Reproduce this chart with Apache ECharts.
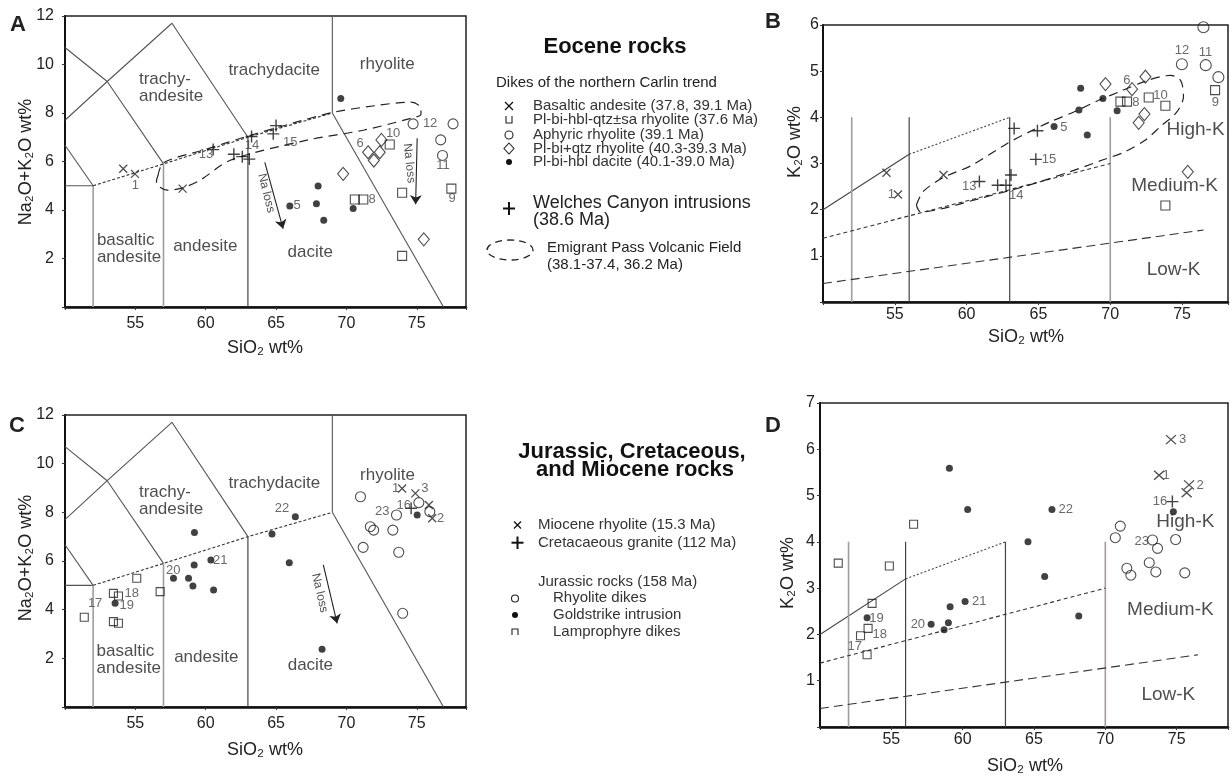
<!DOCTYPE html>
<html><head><meta charset="utf-8">
<script src="https://cdn.jsdelivr.net/npm/echarts@6/dist/echarts.min.js"></script>
<style>html,body{margin:0;padding:0;background:#fff}#c{width:1231px;height:777px}</style>
</head><body><div id="c"></div>
<script>
// ================= DATA =================
// --- TAS field boundaries (SiO2 wt%, Na2O+K2O wt%) ---
const tasSolidLines = [
  [[50,10.7],[53,9.3],[57,5.9]],
  [[50,7.7],[53,9.3],[57.6,11.7],[63,7]],
  [[50,6.67],[52,5]],
  [[50,5],[52,5]],
  [[69,8],[69,12]],
  [[69,8],[76.9,0]]
];
const tasGrayLines = [[[52,0],[52,5]],[[57,0],[57,5.9]]];
const tasDarkLines = [[[63,0],[63,7]]];
const tasDottedLines = [[[52,5],[57,5.9],[63,7],[69,8]]];
// --- K2O-SiO2 boundaries ---
const kSolidLines = [[[50,2.0],[56,3.2]]];
const kDottedLines = [[[56,3.2],[63,4.0]]];
const kDarkVerticals = [[[56,0],[56,4]],[[63,0],[63,4]]];
const kGrayVerticals = [[[52,0],[52,4]],[[70,0],[70,4]]];
const kHighMedLine = [[50,1.38],[70,3.0]];
const kMedLowLine = [[50,0.40],[76.5,1.56]];

// --- Panel A (Eocene, TAS) ---
const A_basalticAndesite = [[54.14,5.70],[54.97,5.49],[58.36,4.88]];
const A_qtzSaRhyolite = [[70.6,4.43],[71.2,4.43],[73.08,6.70],[73.96,4.71],[73.96,2.11],[77.46,4.88]];
const A_aphyricRhyolite = [[74.74,7.55],[77.58,7.55],[76.70,6.89],[76.83,6.25]];
const A_qtzRhyolite = [[69.77,5.49],[75.5,2.79],[71.54,6.38],[71.95,6.04],[72.49,6.89],[72.37,6.38]];
const A_dacite = [[65.98,4.16],[67.99,4.99],[67.87,4.26],[68.39,3.58],[70.48,4.06],[69.6,8.6]];
const A_welches = [[65.0,7.48],[64.8,7.14],[63.26,7.03],[60.53,6.49],[62.0,6.3],[62.6,6.2],[63.1,6.1]];
const A_emigrant = [[56.6,5.4],[57.0,5.95],[60,6.5],[63,7.05],[66,7.55],[69,8.02],[72,8.3],[74.6,8.45],[75.3,8.2],[75.3,7.95],[74.5,7.77],[71.2,7.29],[67.2,6.88],[61.75,6.05],[59.6,5.23],[58.3,4.9],[57.25,4.82],[56.6,5.0],[56.5,5.2],[56.6,5.4]];
const A_numbers = [[75.95,7.58,'12'],[76.87,5.85,'11'],[77.51,4.49,'9'],[71.83,4.45,'8'],[73.32,7.17,'10'],[70.98,6.75,'6'],[66.5,4.2,'5'],[66.01,6.80,'15'],[63.29,6.67,'14'],[60.02,6.29,'13'],[55.0,5.02,'1']];
const A_fieldsLeft = [[55.22,9.04,'trachy-\nandesite'],[52.23,2.42,'basaltic\nandesite']];
const A_fieldsCenter = [[64.87,9.76,'trachydacite'],[72.9,10.0,'rhyolite'],[59.97,2.51,'andesite'],[67.43,2.24,'dacite']];
const A_naLossArrows = [[[64.2,5.96],[65.5,3.23]],[[75.03,6.96],[74.92,4.24]]];
const A_naLossText = [[64.3,4.7,-76],[74.46,5.93,-84]];

// --- Panel B (Eocene, K2O) ---
const B_basalticAndesite = [[54.42,2.80],[55.22,2.33],[58.39,2.75]];
const B_qtzSaRhyolite = [[70.71,4.34],[71.17,4.34],[72.68,4.43],[73.84,4.25],[73.84,2.09],[77.3,4.59]];
const B_aphyricRhyolite = [[76.49,5.95],[74.99,5.15],[76.65,5.13],[77.53,4.87]];
const B_qtzRhyolite = [[69.67,4.72],[71.52,4.61],[72.45,4.88],[72.38,4.07],[71.98,3.88],[75.4,2.82]];
const B_dacite = [[67.94,4.63],[67.82,4.16],[69.49,4.41],[68.4,3.62],[70.48,4.14],[66.09,3.80]];
const B_welches = [[63.31,3.76],[64.93,3.71],[64.82,3.09],[60.89,2.61],[63.09,2.75],[62.16,2.53],[62.74,2.53]];
const B_emigrant = [[56.5,2.1],[57.0,2.4],[58.4,2.7],[60.3,2.95],[62.8,3.43],[64.4,3.69],[65.8,3.9],[67.5,4.12],[69.2,4.37],[70.6,4.55],[72.6,4.8],[74.2,4.91],[74.9,4.8],[75.1,4.45],[74.6,4.1],[73.6,3.83],[72.45,3.51],[71,3.25],[69.5,3.08],[67,2.8],[64,2.5],[61,2.25],[58,2.0],[56.8,1.95],[56.5,2.1]];
const B_numbers = [[74.99,5.46,'12'],[76.63,5.41,'11'],[77.32,4.33,'9'],[71.78,4.33,'8'],[73.5,4.48,'10'],[71.15,4.81,'6'],[66.78,3.79,'5'],[65.74,3.08,'15'],[60.19,2.5,'13'],[63.45,2.3,'14'],[54.76,2.34,'1']];
const B_fields = [[75.94,3.73,'High-K'],[74.48,2.51,'Medium-K'],[74.41,0.69,'Low-K']];

// --- Panel C (Jurassic/Cretaceous/Miocene, TAS) ---
const C_miocene = [[73.96,8.98],[74.9,8.78],[75.86,8.30],[76.1,7.76]];
const C_cretaceous = [[74.6,8.17]];
const C_rhyoliteDikes = [[71.0,8.64],[73.56,7.89],[71.7,7.41],[71.94,7.27],[73.3,7.27],[71.19,6.56],[73.72,6.36],[74.0,3.85],[75.15,8.4],[75.93,8.03]];
const C_goldstrike = [[59.2,7.17],[59.18,5.84],[60.37,6.04],[57.71,5.29],[58.78,5.29],[59.09,4.97],[60.56,4.81],[68.27,2.37],[66.37,7.82],[64.71,7.11],[65.94,5.93],[75.03,7.89],[53.56,4.26]];
const C_lamprophyre = [[55.1,5.29],[56.76,4.74],[51.37,3.69],[53.44,3.51],[53.8,3.44],[53.44,4.67],[53.8,4.56]];
const C_numbers = [[52.14,4.26,'17'],[54.75,4.67,'18'],[54.39,4.19,'19'],[57.69,5.63,'20'],[61.03,6.04,'21'],[65.42,8.17,'22'],[72.54,8.03,'23'],[74.08,8.30,'16'],[73.49,8.99,'1'],[75.57,8.99,'3'],[76.69,7.76,'2']];
const C_fieldsLeft = [[55.22,8.48,'trachy-\nandesite'],[52.21,1.92,'basaltic\nandesite']];
const C_fieldsCenter = [[64.88,9.19,'trachydacite'],[72.92,9.54,'rhyolite'],[60.04,2.04,'andesite'],[67.44,1.70,'dacite']];
const C_naLossArrows = [[[68.36,5.84],[69.34,3.44]]];
const C_naLossText = [[68.1,4.69,-77]];

// --- Panel D (Jurassic/Cretaceous/Miocene, K2O) ---
const D_miocene = [[74.6,6.21],[73.77,5.44],[75.87,5.23],[75.7,5.06]];
const D_cretaceous = [[74.7,4.87]];
const D_rhyoliteDikes = [[71.05,4.34],[70.70,4.09],[73.31,4.04],[73.66,3.86],[74.93,4.05],[71.51,3.43],[71.79,3.28],[73.08,3.55],[73.54,3.35],[75.57,3.33]];
const D_goldstrike = [[59.07,5.59],[60.35,4.70],[66.26,4.70],[64.58,4.00],[65.75,3.25],[74.77,4.65],[59.12,2.60],[60.17,2.71],[57.79,2.22],[59.0,2.25],[58.70,2.10],[68.14,2.40],[53.30,2.36]];
const D_lamprophyre = [[56.56,4.38],[54.86,3.48],[51.28,3.54],[53.65,2.67],[53.37,2.13],[52.84,1.97],[53.3,1.56]];
const D_numbers = [[53.96,2.35,'19'],[54.19,2.0,'18'],[52.44,1.75,'17'],[56.86,2.22,'20'],[61.17,2.71,'21'],[67.22,4.70,'22'],[72.56,4.02,'23'],[73.84,4.87,'16'],[75.42,6.21,'3'],[74.26,5.44,'1'],[76.64,5.21,'2']];
const D_fields = [[75.61,4.43,'High-K'],[74.56,2.53,'Medium-K'],[74.42,0.69,'Low-K']];

// axis extents
const xMaxes = [78.5, 78.2, 78.5, 78.6];
const yMaxes = [12, 6, 12, 7];
const yIntervals = [2, 1, 2, 1];

// ================= CHART =================
const F = "'Liberation Sans', Arial, Helvetica, sans-serif";
const chart = echarts.init(document.getElementById('c'));

const grids = [
  {left:65, top:16, width:401, height:291},
  {left:823, top:25, width:407, height:277},
  {left:65, top:415, width:401, height:292},
  {left:820, top:403, width:410, height:324}
].map(g => Object.assign({show:true, borderColor:'#222', borderWidth:1.5, backgroundColor:'transparent'}, g));

const xLabelMargins = [9, 5, 9, 5];
const yLabelMargins = [11, 4, 11, 5];
const xAxes = xMaxes.map((mx, i) => ({
  type:'value', gridIndex:i, min:50, max:mx, interval:5,
  axisLine:{show:true, onZero:false, lineStyle:{color:'#111', width:2.5}},
  axisTick:{show:true, length:3, lineStyle:{color:'#333'}},
  axisLabel:{margin:xLabelMargins[i], fontSize:16, color:'#222', fontFamily:F,
    formatter: v => (v % 5 === 0 && v > 50) ? String(v) : ''},
  splitLine:{show:false}
}));
const yAxes = yMaxes.map((mx, i) => ({
  type:'value', gridIndex:i, min:0, max:mx, interval:yIntervals[i],
  axisLine:{show:true, onZero:false, lineStyle:{color:'#111', width:2}},
  axisTick:{show:true, length:3, lineStyle:{color:'#333'}},
  axisLabel:{margin:yLabelMargins[i], fontSize:16, color:'#222', fontFamily:F,
    formatter: v => v === 0 ? '' : String(v)},
  splitLine:{show:false}
}));

const series = [];
function addLine(gi, pts, color, width, type, smooth) {
  series.push({type:'line', xAxisIndex:gi, yAxisIndex:gi, data:pts, symbol:'none', showSymbol:false,
    silent:true, z:2, smooth: smooth || false, lineStyle:{color, width, type}});
}
function addPoints(gi, pts, symbol, size, fill, stroke, bw) {
  series.push({type:'scatter', xAxisIndex:gi, yAxisIndex:gi, data:pts, symbol, symbolSize:size,
    silent:true, z:5, itemStyle:{color:fill, borderColor:stroke, borderWidth:bw}});
}
function addTexts(gi, items, fontSize, color, pos, extra) {
  series.push({type:'scatter', xAxisIndex:gi, yAxisIndex:gi, silent:true, z:6,
    symbol:'circle', symbolSize:1, itemStyle:{color:'rgba(0,0,0,0)'},
    data: items.map(it => ({value:[it[0], it[1]], name:it[2]})),
    label: Object.assign({show:true, formatter:'{b}', fontSize, color, fontFamily:F,
      position:pos, distance:0, lineHeight: Math.round(fontSize*1.0)}, extra || {})});
}
function addArrows(gi, arrows) {
  series.push({type:'line', xAxisIndex:gi, yAxisIndex:gi, data:[], silent:true,
    markLine:{silent:true, symbol:['none','arrow'], symbolSize:9, animation:false,
      lineStyle:{color:'#222', width:1.1, type:'solid'}, label:{show:false},
      data: arrows.map(a => [{coord:a[0]}, {coord:a[1]}])}});
}
function addRotTexts(gi, items) {
  items.forEach(it => {
    series.push({type:'scatter', xAxisIndex:gi, yAxisIndex:gi, silent:true, z:6,
      symbol:'circle', symbolSize:1, itemStyle:{color:'rgba(0,0,0,0)'},
      data:[{value:[it[0], it[1]], name:'Na loss'}],
      label:{show:true, formatter:'{b}', position:'inside', rotate:it[2], fontSize:12, color:'#222', fontFamily:F}});
  });
}

const X_SYM = 'path://M0,0L10,10M10,0L0,10';
const P_SYM = 'path://M5,0L5,10M0,5L10,5';

// TAS boundaries for A (0) and C (2)
[0, 2].forEach(gi => {
  tasSolidLines.forEach(l => addLine(gi, l, '#555', 1.1, 'solid'));
  tasGrayLines.forEach(l => addLine(gi, l, '#a59c98', 1.6, 'solid'));
  tasDarkLines.forEach(l => addLine(gi, l, '#444', 1.2, 'solid'));
  tasDottedLines.forEach(l => addLine(gi, l, '#333', 1.1, [3, 2]));
});
// K2O boundaries for B (1) and D (3)
[1, 3].forEach(gi => {
  kSolidLines.forEach(l => addLine(gi, l, '#444', 1.1, 'solid'));
  kDottedLines.forEach(l => addLine(gi, l, '#444', 1.1, [2, 2]));
  kDarkVerticals.forEach(l => addLine(gi, l, '#444', 1.2, 'solid'));
  kGrayVerticals.forEach(l => addLine(gi, l, '#a59c98', 1.6, 'solid'));
  addLine(gi, kHighMedLine, '#333', 1.1, [4, 3]);
  addLine(gi, kMedLowLine, '#333', 1.1, [9, 5]);
});

// Emigrant Pass envelopes
addLine(0, A_emigrant, '#222', 1.2, [9, 6], 0.3);
addLine(1, B_emigrant, '#222', 1.2, [9, 6], 0.3);

// Panel A points
addPoints(0, A_basalticAndesite, X_SYM, [8, 8], 'none', '#222', 1.3);
addPoints(0, A_qtzSaRhyolite, 'rect', 9, 'none', '#222', 1.1);
addPoints(0, A_aphyricRhyolite, 'circle', 10, 'none', '#222', 1.1);
addPoints(0, A_qtzRhyolite, 'diamond', [11, 13], 'none', '#222', 1.1);
addPoints(0, A_dacite, 'circle', 7, '#111', '#111', 0);
addPoints(0, A_welches, P_SYM, 12, 'none', '#111', 1.4);
// Panel B points
addPoints(1, B_basalticAndesite, X_SYM, [8, 8], 'none', '#222', 1.3);
addPoints(1, B_qtzSaRhyolite, 'rect', 9, 'none', '#222', 1.1);
addPoints(1, B_aphyricRhyolite, 'circle', 11, 'none', '#222', 1.1);
addPoints(1, B_qtzRhyolite, 'diamond', [11, 13], 'none', '#222', 1.1);
addPoints(1, B_dacite, 'circle', 7, '#111', '#111', 0);
addPoints(1, B_welches, P_SYM, 12, 'none', '#111', 1.4);
// Panel C points
addPoints(2, C_miocene, X_SYM, [8, 8], 'none', '#222', 1.3);
addPoints(2, C_cretaceous, P_SYM, 12, 'none', '#111', 1.4);
addPoints(2, C_rhyoliteDikes, 'circle', 10, 'none', '#222', 1.1);
addPoints(2, C_goldstrike, 'circle', 7, '#111', '#111', 0);
addPoints(2, C_lamprophyre, 'rect', 8, 'none', '#222', 1.1);
// Panel D points
addPoints(3, D_miocene, X_SYM, [10, 9], 'none', '#222', 1.3);
addPoints(3, D_cretaceous, P_SYM, 12, 'none', '#111', 1.4);
addPoints(3, D_rhyoliteDikes, 'circle', 10, 'none', '#222', 1.1);
addPoints(3, D_goldstrike, 'circle', 7, '#111', '#111', 0);
addPoints(3, D_lamprophyre, 'rect', 8, 'none', '#222', 1.1);

// Numbers
addTexts(0, A_numbers, 13, '#444', 'inside');
addTexts(1, B_numbers, 13, '#444', 'inside');
addTexts(2, C_numbers, 13, '#444', 'inside');
addTexts(3, D_numbers, 13, '#444', 'inside');
// Field names
addTexts(0, A_fieldsLeft, 17, '#222', 'right', {align:'left', lineHeight:17});
addTexts(0, A_fieldsCenter, 17, '#222', 'inside');
addTexts(2, C_fieldsLeft, 17, '#222', 'right', {align:'left', lineHeight:17});
addTexts(2, C_fieldsCenter, 17, '#222', 'inside');
addTexts(1, B_fields, 19, '#222', 'inside');
addTexts(3, D_fields, 19, '#222', 'inside');
// Na loss arrows
addArrows(0, A_naLossArrows);
addRotTexts(0, A_naLossText);
addArrows(2, C_naLossArrows);
addRotTexts(2, C_naLossText);

// ---------- graphic: panel letters, axis names, legends ----------
function T(x, y, text, size, opt) {
  opt = opt || {};
  return {type:'text', x, y, rotation: opt.rot || 0, silent:true, z:10,
    style:{text, fill: opt.color || '#222', fontSize:size, fontFamily:F, fontWeight: opt.bold ? 'bold' : 'normal',
      align: opt.align || 'left', verticalAlign:'middle'}};
}
function L(x1, y1, x2, y2, w) {
  return {type:'line', silent:true, z:10, shape:{x1, y1, x2, y2}, style:{stroke:'#111', lineWidth:w || 1.2}};
}
const g = [];
// panel letters
g.push(T(18, 25, 'A', 22, {bold:true, align:'center'}));
g.push(T(773, 22, 'B', 22, {bold:true, align:'center'}));
g.push(T(17, 426, 'C', 22, {bold:true, align:'center'}));
g.push(T(773, 426, 'D', 22, {bold:true, align:'center'}));
// axis names
g.push(T(265, 348, 'SiO₂ wt%', 18, {align:'center'}));
g.push(T(1026, 337, 'SiO₂ wt%', 18, {align:'center'}));
g.push(T(265, 750, 'SiO₂ wt%', 18, {align:'center'}));
g.push(T(1025, 766, 'SiO₂ wt%', 18, {align:'center'}));
g.push(T(26, 162, 'Na₂O+K₂O wt%', 18, {align:'center', rot:Math.PI/2}));
g.push(T(26, 558, 'Na₂O+K₂O wt%', 18, {align:'center', rot:Math.PI/2}));
g.push(T(795, 142, 'K₂O wt%', 18, {align:'center', rot:Math.PI/2}));
g.push(T(788, 573, 'K₂O wt%', 18, {align:'center', rot:Math.PI/2}));

// Eocene legend
g.push(T(615, 47, 'Eocene rocks', 22, {bold:true, align:'center', color:'#111'}));
g.push(T(496, 83, 'Dikes of the northern Carlin trend', 15));
const eoItems = ['Basaltic andesite (37.8, 39.1 Ma)', 'Pl-bi-hbl-qtz±sa rhyolite (37.6 Ma)', 'Aphyric rhyolite (39.1 Ma)', 'Pl-bi+qtz rhyolite (40.3-39.3 Ma)', 'Pl-bi-hbl dacite (40.1-39.0 Ma)'];
const eoY = [106, 119.5, 135, 148.5, 162];
eoItems.forEach((t, i) => g.push(T(533, eoY[i], t, 15, {color:'#333'})));
g.push(L(505, 102, 513, 110, 1.3), L(513, 102, 505, 110, 1.3));
g.push({type:'polyline', silent:true, z:10, shape:{points:[[506,116],[506,123],[512,123],[512,116]]}, style:{stroke:'#222', fill:'none', lineWidth:1.1}});
g.push({type:'circle', silent:true, z:10, shape:{cx:509, cy:135, r:4}, style:{stroke:'#222', fill:'none', lineWidth:1.1}});
g.push({type:'polygon', silent:true, z:10, shape:{points:[[509,143],[514,148.5],[509,154],[504,148.5]]}, style:{stroke:'#222', fill:'none', lineWidth:1.1}});
g.push({type:'circle', silent:true, z:10, shape:{cx:509, cy:162, r:3}, style:{fill:'#111'}});
g.push(L(509, 202, 509, 215, 2), L(503, 208.5, 515, 208.5, 2));
g.push(T(533, 203, 'Welches Canyon intrusions', 18));
g.push(T(533, 220, '(38.6 Ma)', 18));
g.push({type:'ellipse', silent:true, z:10, shape:{cx:510, cy:250, rx:23, ry:10}, style:{stroke:'#222', fill:'none', lineWidth:1.3, lineDash:[7,5]}});
g.push(T(547, 248, 'Emigrant Pass Volcanic Field', 15));
g.push(T(547, 265, '(38.1-37.4, 36.2 Ma)', 15));

// Jurassic legend
g.push(T(632, 452, 'Jurassic, Cretaceous,', 22, {bold:true, align:'center', color:'#111'}));
g.push(T(635, 470, 'and Miocene rocks', 22, {bold:true, align:'center', color:'#111'}));
g.push(L(514, 521.5, 521, 528.5, 1.2), L(521, 521.5, 514, 528.5, 1.2));
g.push(T(538, 525, 'Miocene rhyolite (15.3 Ma)', 15, {color:'#333'}));
g.push(L(517.5, 536.5, 517.5, 549, 2), L(511.5, 542.7, 523.5, 542.7, 2));
g.push(T(538, 543, 'Cretacaeous granite (112 Ma)', 15, {color:'#333'}));
g.push(T(538, 582, 'Jurassic rocks (158 Ma)', 15, {color:'#333'}));
g.push({type:'circle', silent:true, z:10, shape:{cx:515, cy:598.5, r:3.5}, style:{stroke:'#222', fill:'none', lineWidth:1.1}});
g.push(T(553, 598, 'Rhyolite dikes', 15, {color:'#333'}));
g.push({type:'circle', silent:true, z:10, shape:{cx:515, cy:615, r:3}, style:{fill:'#111'}});
g.push(T(553, 615, 'Goldstrike intrusion', 15, {color:'#333'}));
g.push({type:'polyline', silent:true, z:10, shape:{points:[[512,635],[512,629],[518,629],[518,635]]}, style:{stroke:'#222', fill:'none', lineWidth:1.1}});
g.push(T(553, 632, 'Lamprophyre dikes', 15, {color:'#333'}));

chart.setOption({
  animation:false,
  backgroundColor:'#fff',
  textStyle:{fontFamily:F},
  grid:grids, xAxis:xAxes, yAxis:yAxes, series, graphic:g
});
</script></body></html>
